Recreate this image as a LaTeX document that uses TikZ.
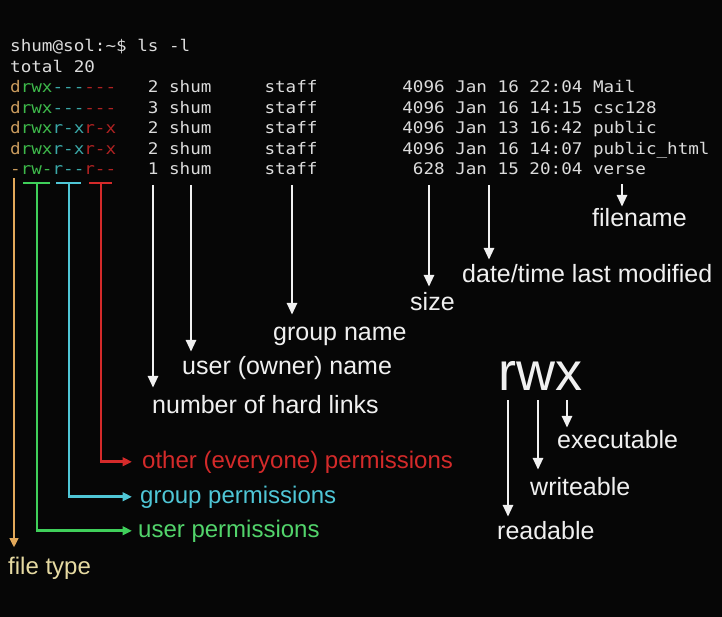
\documentclass[tikz,border=0pt]{standalone}
\usepackage{fontspec}
\usetikzlibrary{arrows.meta}
\newfontfamily\termfont{DejaVu Sans Mono}[FakeStretch=1.10,Ligatures=TeXOff]
\newfontfamily\labfont{Liberation Sans}
\definecolor{bg}{HTML}{060606}
\definecolor{termgray}{HTML}{DCDCDC}
\definecolor{labwhite}{HTML}{F0F0F0}
\definecolor{ctan}{HTML}{E2A85A}
\definecolor{ptan}{HTML}{C89A5C}
\definecolor{cgreen}{HTML}{3FCF5A}
\definecolor{pgreen}{HTML}{3DB84A}
\definecolor{ccyan}{HTML}{4FC6D6}
\definecolor{pcyan}{HTML}{3AA8A8}
\definecolor{cred}{HTML}{D42A2A}
\definecolor{pred}{HTML}{B02222}
\definecolor{typetext}{HTML}{E6DAA2}
\newlength\cw \setlength\cw{10.6pt}
\newcommand\sk[1]{\hspace*{#1\cw}}
\newcommand\pd[1]{\textcolor{ptan}{#1}}
\newcommand\pu[1]{\textcolor{pgreen}{#1}}
\newcommand\pg[1]{\textcolor{pcyan}{#1}}
\newcommand\po[1]{\textcolor{pred}{#1}}
\begin{document}
\begin{tikzpicture}[x=1pt,y=-1pt,
  term/.style={font=\termfont\fontsize{16}{18}\selectfont, text=termgray, inner sep=0pt, anchor=base west},
  lab/.style={font=\labfont\fontsize{25}{30}\selectfont, text=labwhite, inner sep=0pt, anchor=base west, text height=18pt, text depth=5pt},
  plab/.style={font=\labfont\fontsize{24}{29}\selectfont, inner sep=0pt, anchor=base west, text height=17.3pt, text depth=4.8pt},
  warr/.style={draw=labwhite, line width=2.9pt, -{Triangle[width=10pt,length=12pt]}},
  cline/.style={line width=2.6pt},
  carr/.style={line width=2.6pt, -{Triangle[width=8.5pt,length=9.5pt]}}
]
\fill[bg] (0,0) rectangle (722,617);
\useasboundingbox (0,0) rectangle (722,617);

% terminal
\node[term] (prompt) at (10,52) {shum@sol:\textasciitilde\$ ls -l};
\node[term] (total) at (10,72.5) {total 20};
\node[term] (row1) at (10,93) {\pd{d}\pu{rwx}\pg{---}\po{---}\sk{3}2 shum\sk{5}staff\sk{8}4096 Jan 16 22:04 Mail};
\node[term] (row2) at (10,113.5) {\pd{d}\pu{rwx}\pg{---}\po{---}\sk{3}3 shum\sk{5}staff\sk{8}4096 Jan 16 14:15 csc128};
\node[term] (row3) at (10,134) {\pd{d}\pu{rwx}\pg{r-x}\po{r-x}\sk{3}2 shum\sk{5}staff\sk{8}4096 Jan 13 16:42 public};
\node[term] (row4) at (10,154.5) {\pd{d}\pu{rwx}\pg{r-x}\po{r-x}\sk{3}2 shum\sk{5}staff\sk{8}4096 Jan 16 14:07 public\_html};
\node[term] (row5) at (10,175) {\pd{-}\pu{rw-}\pg{r--}\po{r--}\sk{3}1 shum\sk{5}staff\sk{9}628 Jan 15 20:04 verse};

% white labels
\node[lab] (lLinks) at (152,413) {number of hard links};
\node[lab] (lUser) at (182,374) {user (owner) name};
\node[lab] (lGroup) at (273,340) {group name};
\node[lab] (lSize) at (410,310) {size};
\node[lab] (lDate) at (462,283) {date/time last modified};
\node[lab] (lFile) at (592,227) {filename};

\coordinate (aLinks) at (153,185);
\coordinate (aUser) at (191,185);
\coordinate (aGroup) at (292,185);
\coordinate (aSize) at (429,185);
\coordinate (aDate) at (489,185);
\coordinate (aFile) at (622,184);
\draw[warr] (aLinks) -- ([yshift=7pt]lLinks.north -| aLinks);
\draw[warr] (aUser) -- ([yshift=4pt]lUser.north -| aUser);
\draw[warr] (aGroup) -- ([yshift=7pt]lGroup.north -| aGroup);
\draw[warr] (aSize) -- ([yshift=5pt]lSize.north -| aSize);
\draw[warr] (aDate) -- ([yshift=5pt]lDate.north -| aDate);
\draw[warr] (aFile) -- ([yshift=2pt]lFile.north -| aFile);

% rwx
\node[lab, font=\labfont\fontsize{54}{60}\selectfont, text height=, text depth=] (rwx) at (498,390) {rwx};
\node[lab] (lExec) at (557,448) {executable};
\node[lab] (lWrite) at (530,495) {writeable};
\node[lab] (lRead) at (497,539) {readable};
\coordinate (aR) at (508,400);
\coordinate (aW) at (538,400);
\coordinate (aX) at (567,400);
\draw[warr] (aR) -- ([yshift=4pt]lRead.north -| aR);
\draw[warr] (aW) -- ([yshift=7pt]lWrite.north -| aW);
\draw[warr] (aX) -- ([yshift=2pt]lExec.north -| aX);

% permission labels
\node[plab, text=typetext] (lType) at (8,574) {file type};
\node[plab, text=cgreen!90!white] (lUperm) at (138,537) {user permissions};
\node[plab, text=ccyan] (lGperm) at (140,503) {group permissions};
\node[plab, text=cred] (lOperm) at (142,468) {other (everyone) permissions};

% coloured connectors
\coordinate (tT) at (14,178);
\draw[carr, draw=ctan] (tT) -- ([yshift=9pt]lType.north -| tT);

\draw[cline, draw=cgreen] (23,183) -- (50,183);
\coordinate (gT) at (37,183);
\draw[carr, draw=cgreen] (gT) -- (gT |- lUperm.west) -- ([xshift=-6pt]lUperm.west);

\draw[cline, draw=ccyan] (56,183) -- (81,183);
\coordinate (cT) at (69,183);
\draw[carr, draw=ccyan] (cT) -- (cT |- lGperm.west) -- ([xshift=-8pt]lGperm.west);

\draw[cline, draw=cred] (89,183) -- (112,183);
\coordinate (rT) at (101,183);
\draw[carr, draw=cred] (rT) -- (rT |- lOperm.west) -- ([xshift=-10pt]lOperm.west);
\end{tikzpicture}
\end{document}
